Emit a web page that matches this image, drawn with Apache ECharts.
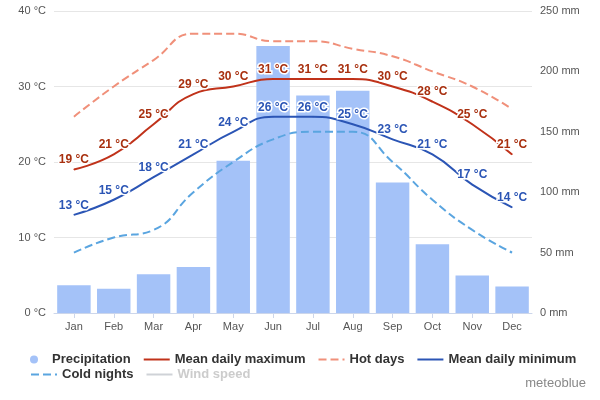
<!DOCTYPE html>
<html><head><meta charset="utf-8">
<script src="https://cdn.jsdelivr.net/npm/echarts@6/dist/echarts.min.js"></script>
<style>html,body{margin:0;padding:0;background:#fff}#c{width:600px;height:400px}</style>
</head><body><div id="c"></div>
<script>
const months=['Jan','Feb','Mar','Apr','May','Jun','Jul','Aug','Sep','Oct','Nov','Dec'];
const precipitation=[23,20,32,38,126,221,180,184,108,57,31,22];
const meanMax=[19,21,25,29,30,31,31,31,30,28,25,21];
const meanMin=[13,15,18,21,24,26,26,25,23,21,17,14];
const hotDays=[26,30,33.5,37,37,36,36,35,34,32,30,27];
const coldNights=[8,10,11,16,20,23,24,24,20,15,11,8];
const windSpeed=[10,10,10,10,10,10,10,10,10,10,10,10];
const ch=echarts.init(document.getElementById('c'));
const font='Liberation Sans';
const lbl=c=>({show:true,formatter:'{c} °C',color:c,fontWeight:'bold',fontSize:12,fontFamily:font,textBorderColor:'#fff',textBorderWidth:3,position:'top',distance:3});
const hid={opacity:0};
const lgBase={left:30,itemGap:12,itemWidth:26,itemHeight:8,padding:0,textStyle:{fontSize:13,fontWeight:'bold',color:'#333',fontFamily:font},selected:{'Wind speed':false},inactiveColor:'#ccc'};
ch.setOption({
 animation:false,
 textStyle:{fontFamily:font},
 grid:{left:54,right:68,top:11,bottom:87},
 legend:[
  Object.assign({},lgBase,{top:353,data:[{name:'Precipitation',icon:'circle',itemStyle:{opacity:1}},{name:'Mean daily maximum',itemStyle:hid},{name:'Hot days',itemStyle:hid},{name:'Mean daily minimum',itemStyle:hid}]}),
  Object.assign({},lgBase,{top:368,data:[{name:'Cold nights',itemStyle:hid},{name:'Wind speed',itemStyle:hid}]})
 ],
 graphic:[{type:'text',right:14,bottom:10,style:{text:'meteoblue',fill:'#888',fontSize:13,fontFamily:font}}],
 xAxis:{type:'category',data:months,axisTick:{show:true,alignWithLabel:true},axisLine:{lineStyle:{color:'#ccd6eb'}},axisLabel:{color:'#555',fontSize:11}},
 yAxis:[{type:'value',min:0,max:40,interval:10,axisLabel:{formatter:'{value} °C',color:'#555',fontSize:11},splitLine:{lineStyle:{color:'#e6e6e6'}}},
  {type:'value',min:0,max:250,interval:50,axisLabel:{formatter:'{value} mm',color:'#555',fontSize:11},splitLine:{show:false}}],
 series:[
  {name:'Precipitation',type:'bar',yAxisIndex:1,data:precipitation,barCategoryGap:'16%',itemStyle:{color:'#a4c2f8'}},
  {name:'Mean daily maximum',type:'line',smooth:true,data:meanMax,symbol:'circle',symbolSize:1,lineStyle:{color:'#c0321a',width:2},itemStyle:{color:'#c0321a'},label:lbl('#a8300f'),z:5},
  {name:'Hot days',type:'line',smooth:true,data:hotDays,symbol:'none',lineStyle:{color:'#f0907a',width:2,type:'dashed'},itemStyle:{color:'#f0907a'}},
  {name:'Mean daily minimum',type:'line',smooth:true,data:meanMin,symbol:'circle',symbolSize:1,lineStyle:{color:'#2b55b5',width:2},itemStyle:{color:'#2b55b5'},label:lbl('#2b55b5'),z:5},
  {name:'Cold nights',type:'line',smooth:true,data:coldNights,symbol:'none',lineStyle:{color:'#5aa5e0',width:2,type:'dashed'},itemStyle:{color:'#5aa5e0'}},
  {name:'Wind speed',type:'line',smooth:true,data:windSpeed,symbol:'none',lineStyle:{color:'#aaa'},itemStyle:{color:'#aaa'}}
 ]});
</script></body></html>
